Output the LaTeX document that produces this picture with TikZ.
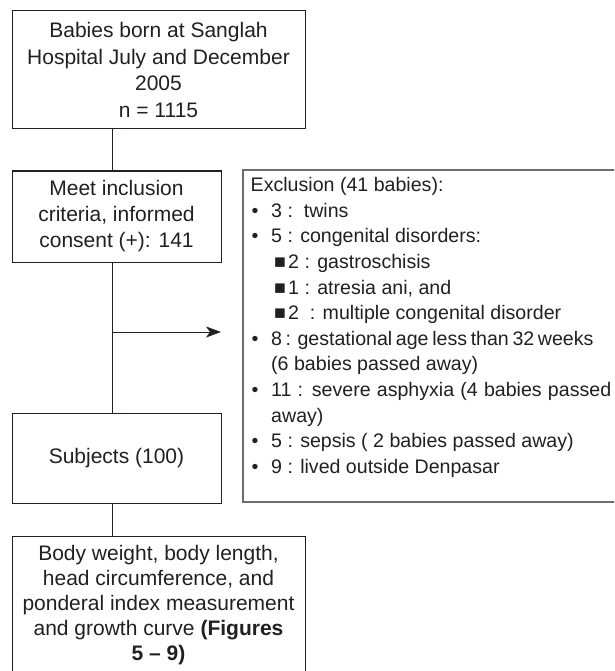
\documentclass[tikz,border=0pt]{standalone}
\usepackage{fontspec}
\setmainfont{Liberation Sans}
\usetikzlibrary{arrows.meta}
\definecolor{ink}{HTML}{231F20}
\definecolor{exborder}{HTML}{6E6E6E}
\begin{document}
\begin{tikzpicture}[x=1pt,y=-1pt,
  box/.style={draw=ink, line width=1pt, inner sep=0pt, align=center, text=ink},
  mainfont/.style={font=\fontsize{21}{#1}\selectfont},
  ln/.style={draw=ink, line width=0.9pt},
  ex/.style={inner sep=0pt, anchor=base west, text=ink, font=\fontsize{19.6}{25.6}\selectfont},
  bul/.style={inner sep=0pt, anchor=base, text=ink, font=\fontsize{19.6}{25.6}\selectfont},
  sq/.style={inner sep=0pt, anchor=base west, text=ink, font=\fontsize{19.6}{25.6}\selectfont},
]
\useasboundingbox (0,0) rectangle (614,671);
\clip (0,0) rectangle (614,671);

% main column
\node[box, mainfont=26.7, minimum width=293pt, minimum height=118pt] (top) at (158.5,70)
  {Babies born at Sanglah\\Hospital July and December\\2005\\n = 1115};
\node[box, mainfont=26, minimum width=209pt, minimum height=91pt] (inc) at (116.5,216.5)
  {Meet inclusion\\criteria, informed\\consent (+): 141};
\node[box, mainfont=26, minimum width=209pt, minimum height=90pt] (subj) at (116.5,458)
  {Subjects (100)};
\node[box, mainfont=25, minimum width=293pt, minimum height=138pt] (body) at (158.5,605)
  {Body weight, body length,\\head circumference, and\\ponderal index measurement\\and growth curve \textbf{(Figures}\\\textbf{5 -- 9)}};

% exclusion box
\node[draw=exborder, line width=1.1pt, inner sep=0pt, minimum width=382pt, minimum height=332pt] (excl) at (434,336) {};

\node[ex] (e0) at (250.5,191.7) {Exclusion (41 babies):};
\node[bul] (b1) at (255,217.3) {•};
\node[ex] (e1) at (271,217.3) {3 :\ \ twins};
\node[bul] (b2) at (255,242.9) {•};
\node[ex] (e2) at (271,242.9) {5 : congenital disorders:};
\node[sq] (s3) at (274,268.5) {■};
\node[ex] (e3) at (288,268.5) {2 : gastroschisis};
\node[sq] (s4) at (274,294.1) {■};
\node[ex] (e4) at (288,294.1) {1 : atresia ani, and};
\node[sq] (s5) at (274,319.7) {■};
\node[ex] (e5) at (288,319.7) {2\ \ : multiple congenital disorder};
\node[bul] (b6) at (255,345.3) {•};
\node[ex] (e6) at (271,345.3) {\hbox to 322pt{8 : gestational age less than 32 weeks}};
\node[ex] (e7) at (271,370.9) {(6 babies passed away)};
\node[bul] (b8) at (255,396.5) {•};
\node[ex] (e8) at (271,396.5) {\hbox to 340pt{11 : severe asphyxia (4 babies passed}};
\node[ex] (e9) at (271,422.1) {away)};
\node[bul] (b10) at (255,447.7) {•};
\node[ex] (e10) at (271,447.7) {5 : sepsis ( 2 babies passed away)};
\node[bul] (b11) at (255,473.3) {•};
\node[ex] (e11) at (271,473.3) {9 : lived outside Denpasar};

% connectors
\coordinate (c) at (112,0);
\coordinate (split) at (112,332);
\coordinate (tip) at (221,332);
\draw[ln] (top.south -| c) -- (inc.north -| c);
\draw[ln] (inc.south -| c) -- (subj.north -| c);
\draw[ln] (subj.south -| c) -- (body.north -| c);
\draw[ln, -{Stealth[length=15pt,width=11pt,inset=4pt]}] (split) -- (tip);
\end{tikzpicture}
\end{document}
